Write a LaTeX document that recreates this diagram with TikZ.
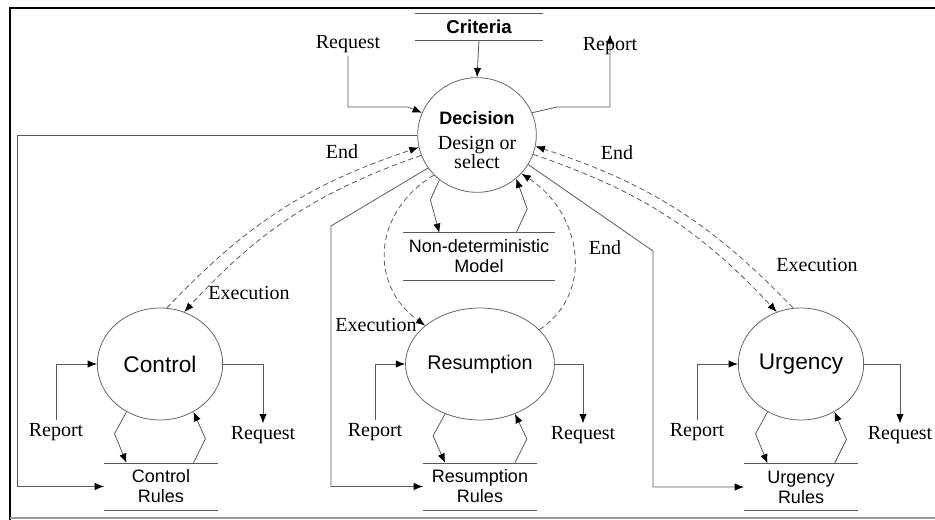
\documentclass[tikz,border=0pt]{standalone}
\usepackage{fontspec}
\setmainfont{Liberation Serif}
\setsansfont{Liberation Sans}
\usetikzlibrary{arrows.meta,shapes.geometric}
\tikzstyle{proc}=[shape=ellipse,draw=black!60,line width=0.6pt,inner sep=0pt,minimum width=94pt,minimum height=84pt,font=\sffamily\fontsize{17}{20}\selectfont]
\tikzstyle{store}=[inner sep=0pt,minimum width=85pt,minimum height=35pt,align=center,font=\sffamily\fontsize{13.5}{15}\selectfont]
\tikzstyle{lbl}=[inner sep=2pt,font=\fontsize{15}{17}\selectfont]
\tikzstyle{rim}=[draw=black!65,line width=0.6pt]
\tikzstyle{to}=[->,>={Latex[length=7pt,width=5.5pt,color=black]},draw=black!65,line width=0.6pt]
\tikzstyle{flow}=[to,dash pattern=on 4pt off 2.5pt]

\begin{document}
\begin{tikzpicture}[x=0.75pt,y=-0.75pt]
        \useasboundingbox (0,0) rectangle (935,520);
        % frame
        \draw[line width=2pt] (10,521) -- (10,8) -- (936,8);
        \draw[black!40,line width=1pt] (10,518) -- (936,518);

        % processes
        \node[proc,minimum width=89pt,minimum height=86pt,align=center,font=\fontsize{15}{14.5}\selectfont] (dec) at (477,135)
            {\rule{0pt}{18pt}{\sffamily\bfseries\fontsize{13.5}{15}\selectfont Decision}\\[4pt]Design or\\select};
        \node[proc] (ctl) at (160,364) {Control};
        \node[proc,font=\sffamily\fontsize{14.8}{17}\selectfont] (res) at (480,364) {Resumption};
        \node[proc] (urg) at (801,364) {Urgency};

        % stores
        \node[store,minimum width=96pt,minimum height=19.5pt,font=\sffamily\bfseries\fontsize{14}{16}\selectfont] (crit) at (479,27) {Criteria};
        \node[store,minimum width=114pt] (ndm) at (479,256.5) {Non-deterministic\\Model};
        \node[store] (ctlr) at (161,486.5) {Control\\Rules};
        \node[store] (resr) at (480,486.5) {Resumption\\Rules};
        \node[store] (urgr) at (801,487) {Urgency\\Rules};
        \foreach \s in {crit,ndm,ctlr,resr,urgr}
            \draw[rim] (\s.north west) -- (\s.north east) (\s.south west) -- (\s.south east);

        % labels
        \node[lbl] (reqD) at (348,44) {Request};
        \node[lbl] (repD) at (610,46) {Report};
        \node[lbl] (endC) at (342,152) {End};
        \node[lbl] (exeC) at (249,293) {Execution};
        \node[lbl] (exeR) at (376,325) {Execution};
        \node[lbl] (endR) at (605,248) {End};
        \node[lbl] (endU) at (617,153) {End};
        \node[lbl] (exeU) at (817,265) {Execution};
        \node[lbl] (repC) at (56,432) {Report};
        \node[lbl] (reqC) at (263,435) {Request};
        \node[lbl] (repR) at (375,432) {Report};
        \node[lbl] (reqR) at (583,435) {Request};
        \node[lbl] (repU) at (697,432) {Report};
        \node[lbl] (reqU) at (900,435) {Request};

        % decision
        \draw[to] (crit.south) -- (dec.north);
        \draw[to] (reqD.south) |- (408,107) -- (dec.158);
        \draw[to] (dec.22) -- (557,107) -| (repD.north);
        \draw[to] (dec.230) -- ++(-9,20) -- (ndm.north -| dec.230);
        \draw[to] (ndm.north -| dec.312) -- ++(11,-24) -- (dec.312);
        \draw[to] (dec.west) -- (17,135) |- (ctlr.west);
        \draw[to] (dec.214) -- (331,226) |- (resr.west);
        \draw[to] (dec.330) -- (653,251) |- (urgr.west);

        % execution and end
        \draw[flow] (dec.200) to[bend right=14] (ctl.65);
        \draw[flow] (ctl.83) to[bend left=14] (dec.192);
        \draw[flow] (dec.223) to[out=211,in=144,looseness=1.2] (res.145);
        \draw[flow] (res.30) to[out=34,in=327,looseness=1.13] (dec.319);
        \draw[flow] (dec.341) to[bend left=14] (urg.115);
        \draw[flow] (urg.98) to[bend right=14] (dec.349);

        % sub processes
        \foreach \p/\r/\rp/\rq in {ctl/ctlr/repC/reqC,res/resr/repR/reqR,urg/urgr/repU/reqU}
        {
            \draw[to] (\rp.north) |- (\p.west);
            \draw[to] (\p.east) -| (\rq.north);
            \draw[to] (\p.235) -- ++(-12,22) -- (\r.north -| \p.235);
            \draw[to] (\r.north -| \p.305) -- ++(12,-24) -- (\p.305);
        }
\end{tikzpicture}
\end{document}
